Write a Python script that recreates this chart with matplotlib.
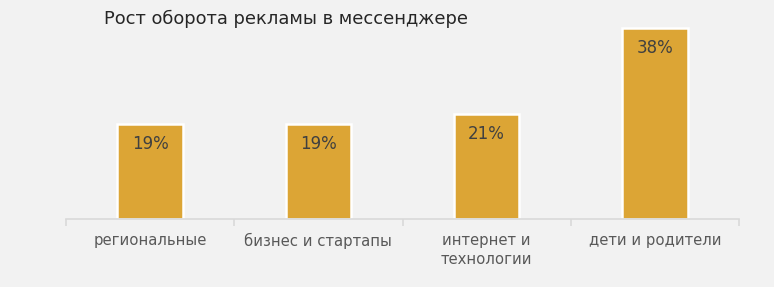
import numpy as np
import matplotlib
matplotlib.use('Agg')
import matplotlib.pyplot as plt

categories = ['региональные', 'бизнес и стартапы', 'интернет и\nтехнологии', 'дети и родители']
values = [19, 19, 21, 38]
value_labels = ['19%', '19%', '21%', '38%']

plt.rcParams['font.family'] = ['DejaVu Sans']

fig = plt.figure(figsize=(7.74, 2.87), dpi=100, facecolor='#f2f2f2')
ax = fig.add_axes([0.0853, 0.237, 0.8695, 0.700])
ax.set_facecolor('#f2f2f2')

x = np.arange(len(categories))
bars = ax.bar(x, values, width=0.39, color='#dca535', edgecolor='white', linewidth=1.8)

for b, lab in zip(bars, value_labels):
    ax.annotate(lab, (b.get_x() + b.get_width() / 2, b.get_height()),
                xytext=(0, -8), textcoords='offset points', ha='center', va='top',
                fontsize=12, color='#404040')

ax.set_xlim(-0.5, len(categories) - 0.5)
ax.set_ylim(0, 40)
ax.set_yticks([])
for s in ['top', 'right', 'left']:
    ax.spines[s].set_visible(False)
ax.spines['bottom'].set_color('#d9d9d9')
ax.spines['bottom'].set_linewidth(1.2)

ax.set_xticks(x)
ax.set_xticklabels(categories, fontsize=10.7, color='#595959', linespacing=1.35)
ax.tick_params(axis='x', which='major', length=0, pad=10)
ax.set_xticks(np.arange(-0.5, len(categories), 1.0), minor=True)
ax.tick_params(axis='x', which='minor', length=5, color='#d9d9d9', width=1.2)

fig.text(0.134, 0.935, 'Рост оборота рекламы в мессенджере', fontsize=12.9,
         color='#262626', va='center', ha='left')

fig.savefig('out.png', dpi=100, facecolor=fig.get_facecolor())
